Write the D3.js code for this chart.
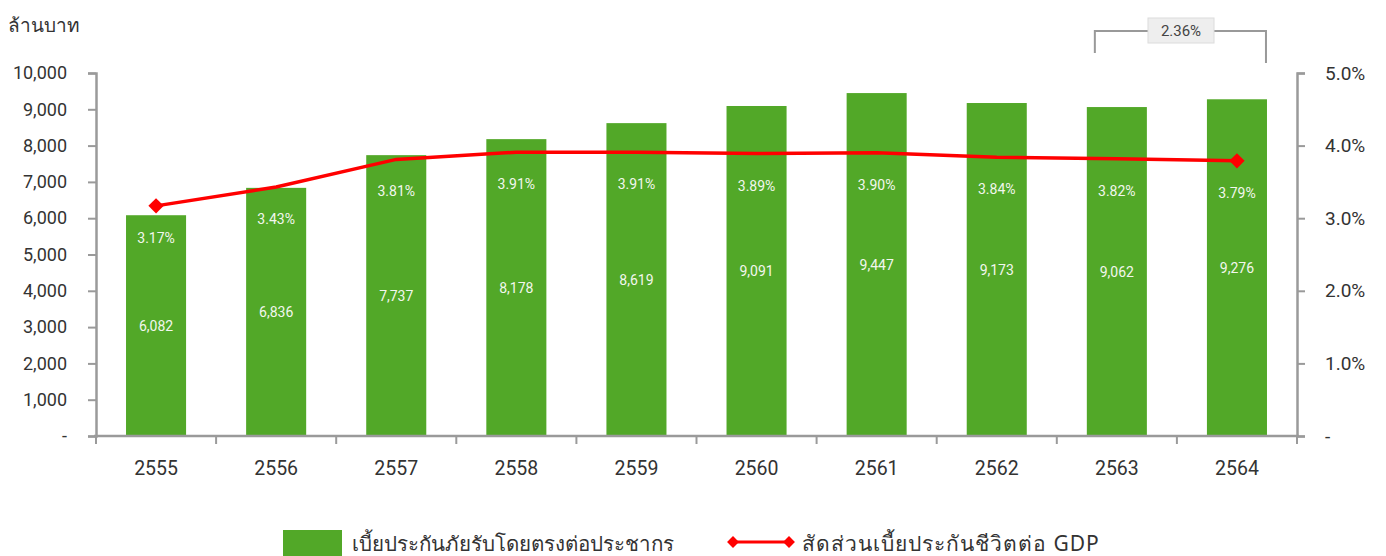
<!DOCTYPE html>
<html><head><meta charset="utf-8">
<script src="https://cdn.jsdelivr.net/npm/d3@7"></script>
<style>body{margin:0;background:#fff}svg{display:block}</style>
</head><body><svg id="c" width="1386" height="556"></svg>
<script>
const years = ["2555","2556","2557","2558","2559","2560","2561","2562","2563","2564"];
const premiums = [6082,6836,7737,8178,8619,9091,9447,9173,9062,9276];
const gdpShare = [3.17,3.43,3.81,3.91,3.91,3.89,3.90,3.84,3.82,3.79];
const leftTicks = [0,1000,2000,3000,4000,5000,6000,7000,8000,9000,10000];
const rightTicks = [0,1,2,3,4,5];
const yLabel = "ล้านบาท";
const legendBar = "เบี้ยประกันภัยรับโดยตรงต่อประชากร";
const legendLine = "สัดส่วนเบี้ยประกันชีวิตต่อ GDP";
const bracketLabel = "2.36%";

const svg = d3.select("#c");
const L = 96, R = 1297, T = 73, B = 436;
const green = "#52a828", red = "#ff0000", axisC = "#9a9a9a", txt = "#333";
const font = "Roboto, 'Noto Sans', sans-serif";

const x = d3.scaleBand().domain(years).range([L, R]).paddingInner(0.5).paddingOuter(0.25);
const yL = d3.scaleLinear().domain([0,10000]).range([B,T]);
const yR = d3.scaleLinear().domain([0,5]).range([B,T]);

// bars
svg.append("g").selectAll("rect").data(premiums).join("rect")
  .attr("x",(d,i)=>x(years[i])).attr("width",x.bandwidth())
  .attr("y",d=>yL(d)).attr("height",d=>B-yL(d)).attr("fill",green);

// axes
const fmt = d=> d===0 ? "-" : d3.format(",")(d);
const gl = svg.append("g").attr("transform",`translate(${L},0)`)
  .call(d3.axisLeft(yL).tickValues(leftTicks).tickFormat(fmt).tickSize(8).tickPadding(21));
const gr = svg.append("g").attr("transform",`translate(${R},0)`)
  .call(d3.axisRight(yR).tickValues(rightTicks).tickFormat(d=> d===0?"-":d.toFixed(1)+"%").tickSize(8).tickPadding(20));
const bounds = d3.range(years.length+1).map(i=>L+i*(R-L)/years.length);
const gx = svg.append("g").attr("transform",`translate(0,${B})`)
  .call(d3.axisBottom(x).tickSize(0).tickPadding(25));
gx.selectAll(".tk").data(bounds).join("line").attr("class","tk")
  .attr("x1",d=>d).attr("x2",d=>d).attr("y1",0).attr("y2",8).attr("stroke",axisC).attr("stroke-width",2);
[gl,gr,gx].forEach(g=>{
  g.select(".domain").attr("stroke",axisC).attr("stroke-width",2.5);
  g.selectAll(".tick line").attr("stroke",axisC).attr("stroke-width",2);
  g.selectAll("text").attr("fill",txt).style("font-family",font);
});
gl.selectAll("text").style("font-size","18px");
gr.selectAll("text").style("font-size","19px");
gx.selectAll("text").style("font-size","19.5px");
gx.select(".domain").attr("d",`M${L-2},0H${R+2}`);

// line
const cx = i => x(years[i]) + x.bandwidth()/2;
svg.append("path").datum(gdpShare)
  .attr("d", d3.line().x((d,i)=>cx(i)).y(d=>yR(d)))
  .attr("fill","none").attr("stroke",red).attr("stroke-width",3.5);
const diamond = d3.symbol().type(d3.symbolDiamond2).size(150);
[0, gdpShare.length-1].forEach(i=>{
  svg.append("path").attr("d",diamond()).attr("fill",red)
    .attr("transform",`translate(${cx(i)},${yR(gdpShare[i])})`);
});

// labels
const lab = svg.append("g").style("font-family",font).style("font-size","14px").attr("fill","#f2f7ee").attr("text-anchor","middle");
lab.selectAll(".pl").data(gdpShare).join("text").attr("class","pl")
  .attr("x",(d,i)=>cx(i)).attr("y",d=>yR(d)+37).text(d=>d.toFixed(2)+"%");
lab.selectAll(".vl").data(premiums).join("text").attr("class","vl")
  .attr("x",(d,i)=>cx(i)).attr("y",d=>(yL(d)+B)/2+5).text(d=>d3.format(",")(d));

// y label
svg.append("text").attr("x",8).attr("y",32).text(yLabel)
  .style("font-family","'Noto Sans', sans-serif").style("font-size","19px").attr("fill",txt);

// bracket
const bx1 = cx(8)-22, bx2 = cx(9)+x.bandwidth()/2;
svg.append("path").attr("d",`M${bx1},53V31H${bx2-1}V63`).attr("fill","none").attr("stroke","#999").attr("stroke-width",2);
svg.append("rect").attr("x",1148).attr("y",18).attr("width",66).attr("height",25).attr("fill","#eeeeee").attr("stroke","#dcdcdc");
svg.append("text").attr("x",1181).attr("y",36).attr("text-anchor","middle").text(bracketLabel)
  .style("font-family",font).style("font-size","15px").attr("fill","#444");

// legend
svg.append("rect").attr("x",283).attr("y",530).attr("width",59).attr("height",30).attr("fill",green);
svg.append("text").attr("x",352).attr("y",551).text(legendBar).style("font-family","'Noto Sans', sans-serif").style("font-size","20.5px").attr("fill",txt);
svg.append("line").attr("x1",733).attr("x2",789).attr("y1",542).attr("y2",542).attr("stroke",red).attr("stroke-width",3);
[733,789].forEach(px=>svg.append("path").attr("d",d3.symbol().type(d3.symbolDiamond2).size(90)()).attr("fill",red).attr("transform",`translate(${px},542)`));
svg.append("text").attr("x",802).attr("y",551).text(legendLine).style("font-family","'Noto Sans', sans-serif").style("font-size","21px").style("letter-spacing","1px").attr("fill",txt);
</script></body></html>
